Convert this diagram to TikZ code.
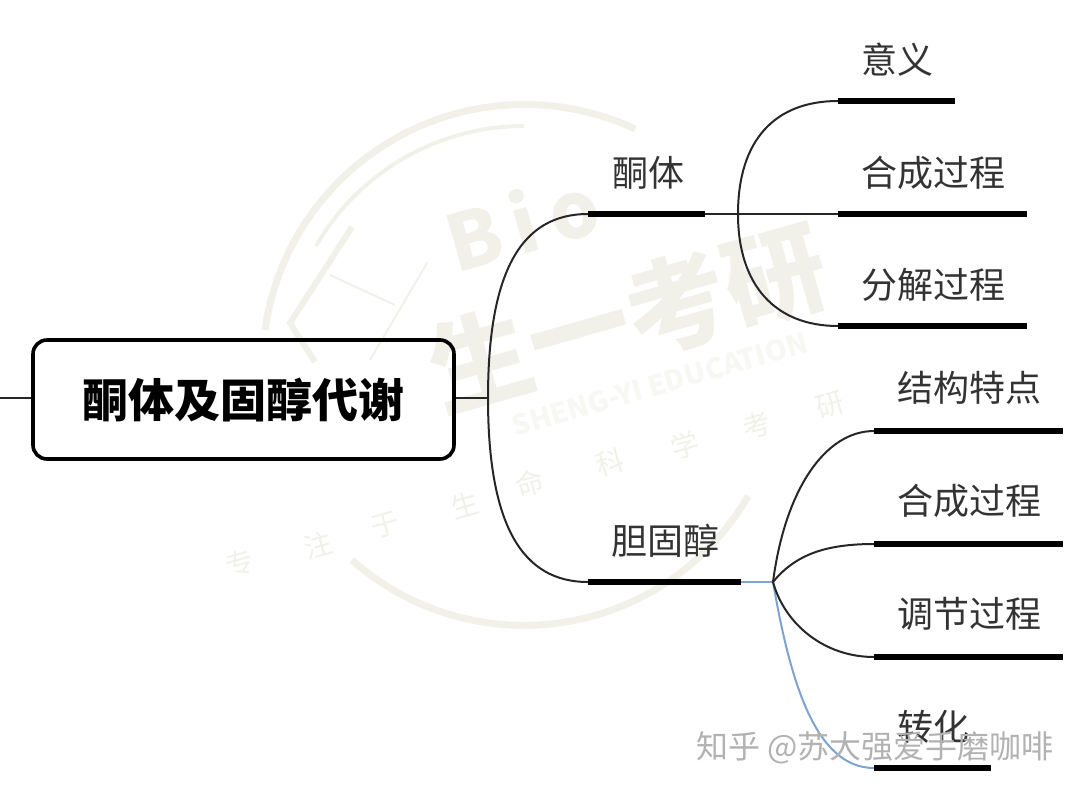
\documentclass[tikz,border=0pt]{standalone}
\usepackage{fontspec}
\setmainfont{Noto Sans CJK SC}
\usepackage{xcolor}
\usetikzlibrary{positioning}

\definecolor{markgray}{HTML}{F1F1EA}
\definecolor{linkblue}{HTML}{7DA4CF}

\newcommand{\fs}[1]{\fontsize{#1}{#1}\selectfont}

\tikzset{
    bar/.style={line width=6pt, black},
    branch/.style={line width=2pt, black!85},
    bluebranch/.style={line width=2pt, linkblue},
    topic/.style={inner sep=0pt, text=black!80, font=\fs{36}},
    wmark/.style={inner sep=0pt, text=markgray, rotate=16},
    ring/.style={line width=7pt, markgray},
}

\begin{document}
\begin{tikzpicture}[x=1pt, y=1pt]
    \useasboundingbox (0,0) rectangle (1080,-793);

    % watermark
    \draw[ring] (265,-330) arc[start angle=172, end angle=65, radius=262];
    \draw[ring, line width=4pt] (316,-246) arc[start angle=150, end angle=90, radius=240];
    \draw[ring] (352,-560) arc[start angle=228.4, end angle=330, radius=259];
    \draw[markgray, line width=6pt] (352,-227) -- (290,-323) -- (315,-362);
    \draw[markgray, line width=2pt] (330,-275) -- (395,-305);
    \draw[markgray, line width=2pt] (427,-263) -- (370,-360);
    \node[wmark, font=\bfseries\fs{78}] (bio) at (522,-222) {B\,i\,o};
    \node[wmark, font=\bfseries\fs{102}] (brand) at (628,-318) {生一考研};
    \node[wmark, text=markgray!60, font=\bfseries\fs{28}] (edu) at (660,-384) {SHENG-YI EDUCATION};
    \foreach \t/\x/\y in {专/240/563, 注/318/545, 于/385/525, 生/465/505, 命/530/483, 科/610/462, 学/685/445, 考/757/425, 研/830/405}
        \node[wmark, font=\fs{28}] at (\x,-\y) {\t};

    % root
    \node[draw, rounded corners=14pt, line width=3.6pt, fill=white, fill opacity=0, text opacity=1, minimum width=421pt, minimum height=119pt,
        font=\bfseries\fs{46}] (root) at (243.5,-399.5) {酮体及固醇代谢};
    \coordinate (rootin) at (0,-398);
    \coordinate (hub) at (488,-398);

    % first level
    \coordinate (ketoL) at (588,-214);
    \coordinate (ketoR) at (705,-214);
    \coordinate (cholL) at (588,-582);
    \coordinate (cholR) at (741,-582);
    \coordinate (ketohub) at (738,-214);
    \coordinate (cholhub) at (773,-582);

    % second level
    \coordinate (meanL) at (838,-101);
    \coordinate (meanR) at (955,-101);
    \coordinate (ksynL) at (838,-214);
    \coordinate (ksynR) at (1027,-214);
    \coordinate (kdegL) at (838,-326);
    \coordinate (kdegR) at (1027,-326);
    \coordinate (featL) at (874,-431);
    \coordinate (featR) at (1063,-431);
    \coordinate (csynL) at (874,-544);
    \coordinate (csynR) at (1063,-544);
    \coordinate (regL) at (874,-657);
    \coordinate (regR) at (1063,-657);
    \coordinate (convL) at (874,-768);
    \coordinate (convR) at (991,-768);

    \draw[branch] (rootin) -- (root.west |- rootin);
    \draw[branch] (root.east |- hub) -- (hub);
    \draw[branch] (hub) .. controls (488,-270) and (522,-214) .. (ketoL);
    \draw[branch] (hub) .. controls (488,-525) and (522,-582) .. (cholL);

    \draw[branch] (ketoR) -- (ksynL);
    \draw[branch] (ketohub) .. controls (738,-140) and (775,-101) .. (meanL);
    \draw[branch] (ketohub) .. controls (738,-285) and (775,-326) .. (kdegL);

    \draw[bluebranch] (cholR) -- (cholhub);
    \draw[bluebranch] (cholhub) .. controls (790,-680) and (815,-768) .. (convL);
    \draw[branch] (cholhub) .. controls (785,-490) and (825,-431) .. (featL);
    \draw[branch] (cholhub) .. controls (795,-555) and (825,-544) .. (csynL);
    \draw[branch] (cholhub) .. controls (785,-625) and (825,-657) .. (regL);

    \foreach \a/\b in {ketoL/ketoR, cholL/cholR, meanL/meanR, ksynL/ksynR, kdegL/kdegR, featL/featR, csynL/csynR, regL/regR, convL/convR}
        \draw[bar] (\a) -- (\b);

    \node[topic] (keto) at (648,-173) {酮体};
    \node[topic] (chol) at (665,-541) {胆固醇};
    \node[topic] (mean) at (897,-60) {意义};
    \node[topic] (ksyn) at (933,-173) {合成过程};
    \node[topic] (kdeg) at (933,-285) {分解过程};
    \node[topic] (feat) at (969,-388) {结构特点};
    \node[topic] (csyn) at (969,-501) {合成过程};
    \node[topic] (reg) at (969,-614) {调节过程};
    \node[topic] (conv) at (933,-727) {转化};

    % zhihu
    \node[inner sep=0pt, text=gray!60, font=\fs{32}] (zhihu) at (875,-748) {知乎 @苏大强爱手磨咖啡};
\end{tikzpicture}
\end{document}
